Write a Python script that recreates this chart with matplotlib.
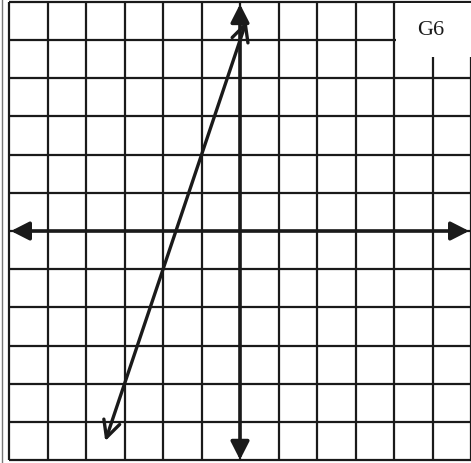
import matplotlib.pyplot as plt
from matplotlib.patches import Rectangle

# grid goes from -6 to 6 on both axes
grid_ticks = list(range(-6, 7))

line_x = [-3.5, 0.17]
line_y = [-5.5, 5.5]

label = 'G6'

ink = '#1a1a1a'

fig = plt.figure(figsize=(4.71, 4.63), dpi=100)
ax = fig.add_axes([0, 0, 1, 1])
ax.set_xlim(-6.234, 6.0)
ax.set_ylim(-6.073, 6.047)
ax.axis('off')

# grid lines only inside the -6..6 square
lo, hi = grid_ticks[0], grid_ticks[-1]
ax.vlines(grid_ticks, lo, hi, color=ink, linewidth=1.6, zorder=0.5)
ax.hlines(grid_ticks, lo, hi, color=ink, linewidth=1.6, zorder=0.5)

# faint scan edge on the far left
ax.axvline(-6.19, color='#777777', linewidth=1.0)

# white label box over the top right corner
ax.add_patch(Rectangle((4.04, 4.55), 2.5, 1.42, facecolor='white',
                       edgecolor='none', zorder=1))
ax.text(4.94, 5.26, label, fontsize=16, family='Liberation Serif',
        ha='center', va='center', color=ink, zorder=3)

# axes with filled arrowheads
axis_style = dict(arrowstyle='<|-|>,head_length=0.55,head_width=0.28',
                  color=ink, linewidth=2.6, mutation_scale=20,
                  shrinkA=0, shrinkB=0)
ax.annotate('', xy=(5.95, 0), xytext=(-5.95, 0), arrowprops=axis_style, zorder=4)
ax.annotate('', xy=(0, 5.94), xytext=(0, -5.99), arrowprops=axis_style, zorder=4)

# the line with open arrowheads
line_style = dict(arrowstyle='<->,head_length=0.6,head_width=0.3',
                  color=ink, linewidth=2.4, mutation_scale=20,
                  shrinkA=0, shrinkB=0)
ax.annotate('', xy=(line_x[1], line_y[1]), xytext=(line_x[0], line_y[0]),
            arrowprops=line_style, zorder=5)

fig.savefig('out.png', dpi=100, facecolor='white')
